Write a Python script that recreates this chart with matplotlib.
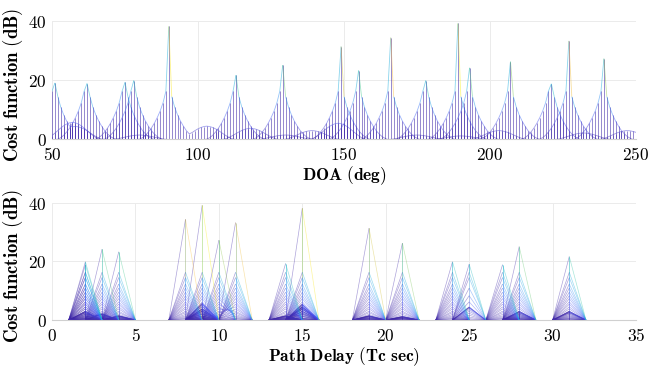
import numpy as np
import matplotlib
matplotlib.use('Agg')
import matplotlib.pyplot as plt
from matplotlib.collections import LineCollection
from matplotlib.colors import LinearSegmentedColormap, Normalize
from matplotlib.ticker import FuncFormatter

plt.rcParams['mathtext.fontset'] = 'cm'

# ---------------- data ----------------
doa_grid = np.arange(50, 251, 1)          # DOA grid (deg)
delay_grid = np.arange(0, 36, 1)          # path delay grid (Tc)

peak_doa   = [51, 62, 75, 78, 90, 113, 129, 149, 155, 166, 178, 189, 193, 207, 221, 227, 239]
peak_delay = [25, 27, 14, 2, 15, 31, 28, 19, 4, 8, 24, 9, 3, 21, 2, 11, 10]
peak_db    = [19.1, 18.9, 19.3, 19.9, 38.2, 21.7, 25.1, 31.4, 23.3, 34.4, 19.9, 39.2, 24.2, 26.3, 18.8, 33.3, 27.3]

# levels of the grid points beside each peak (dB), 1, 2, 3 ... deg away
side_left_db  = [16.3, 12.3, 9.5, 7.3, 5.4, 3.8, 2.5, 1.4, 0.6, 0.1]
side_right_db = [14.5, 10.9, 8.3, 6.2, 4.5, 3.0, 1.9, 1.0, 0.4, 0.0]

# low, broad bumps of the cost function
bump_doa   = [57, 58, 103, 118, 139, 148, 175, 203, 232, 247, 80, 130, 190]
bump_delay = [9, 25, 15, 9, 2, 15, 14, 28, 3, 31, 4, 19, 21]
bump_db    = [5.8, 4.4, 4.5, 3.8, 3.0, 5.5, 1.5, 3.0, 2.2, 3.0, 1.5, 1.5, 1.2]
bump_shape = [1.0, 0.97, 0.9, 0.8, 0.67, 0.52, 0.37, 0.23, 0.11, 0.03]

# ---------------- build the cost surface ----------------
nd, na = len(delay_grid), len(doa_grid)
Z = np.full((nd, na), np.nan)

def put(r, c, v):
    if 0 <= r < nd and 0 <= c < na:
        Z[r, c] = v if np.isnan(Z[r, c]) else max(Z[r, c], v)

for d in list(peak_delay) + list(bump_delay):
    r = int(np.searchsorted(delay_grid, d))
    for rr in (r - 1, r, r + 1):
        if 0 <= rr < nd:
            Z[rr] = np.where(np.isnan(Z[rr]), 0.0, Z[rr])

for a, d, h in zip(peak_doa, peak_delay, peak_db):
    r = int(np.searchsorted(delay_grid, d)); c = int(np.searchsorted(doa_grid, a))
    put(r, c, h)
    for k, v in enumerate(side_left_db, start=1):
        put(r, c - k, v)
    for k, v in enumerate(side_right_db, start=1):
        put(r, c + k, v)

for a, d, h in zip(bump_doa, bump_delay, bump_db):
    r = int(np.searchsorted(delay_grid, d)); c = int(np.searchsorted(doa_grid, a))
    for k, s in enumerate(bump_shape):
        put(r, c - k, h * s)
        put(r, c + k, h * s)

# ---------------- parula-like colormap ----------------
parula = LinearSegmentedColormap.from_list('parula', [
    (0.2422, 0.1504, 0.6603), (0.2810, 0.3228, 0.9579), (0.1786, 0.5289, 0.9682),
    (0.0689, 0.6948, 0.8394), (0.2161, 0.7843, 0.5923), (0.6720, 0.7793, 0.2227),
    (0.9906, 0.7406, 0.2394), (0.9763, 0.9831, 0.0538)])
norm = Normalize(0, 40)

def edge_segments(X, axis, mode):
    if axis == 0:
        x0, x1, z0, z1 = X[:-1], X[1:], Z[:-1], Z[1:]
    else:
        x0, x1, z0, z1 = X[:, :-1], X[:, 1:], Z[:, :-1], Z[:, 1:]
    m = np.isfinite(z0) & np.isfinite(z1)
    s = np.stack([np.stack([x0[m], z0[m]], -1), np.stack([x1[m], z1[m]], -1)], 1)
    v = z0[m] if mode == 'first' else np.minimum(z0[m], z1[m])
    o = np.argsort(v, kind='stable')
    return s[o], v[o]

def bold(v, pos):
    return r'$\mathbf{%d}$' % v

fig = plt.figure(figsize=(6.5, 3.67), dpi=100)
ax1 = fig.add_axes([0.080, 0.620, 0.8985, 0.3225])
ax2 = fig.add_axes([0.080, 0.128, 0.8985, 0.3190])

XA = np.broadcast_to(doa_grid[None, :], Z.shape).astype(float)
XD = np.broadcast_to(delay_grid[:, None], Z.shape).astype(float)

# top: side view along delay -> delay-direction edges appear vertical
s, v = edge_segments(XA, 0, 'min')
ax1.add_collection(LineCollection(s, colors=parula(norm(v)), linewidths=0.5, alpha=0.45))
s, v = edge_segments(XA, 1, 'first')
ax1.add_collection(LineCollection(s, colors=parula(norm(v)), linewidths=0.6, alpha=0.5))

# bottom: side view along DOA -> DOA-direction edges appear vertical
s, v = edge_segments(XD, 1, 'first')
ax2.add_collection(LineCollection(s, colors=parula(norm(v)), linewidths=0.5, alpha=0.42))
s, v = edge_segments(XD, 0, 'first')
ax2.add_collection(LineCollection(s, colors=parula(norm(v)), linewidths=0.5, alpha=0.42))

for ax, xlim, xticks, xlabel in (
        (ax1, (50, 250), [50, 100, 150, 200, 250], r'$\mathbf{DOA\ (deg)}$'),
        (ax2, (0, 35), [0, 5, 10, 15, 20, 25, 30, 35], r'$\mathbf{Path\ Delay\ (Tc\ sec)}$')):
    ax.set_xlim(*xlim); ax.set_ylim(0, 40)
    ax.set_xticks(xticks); ax.set_yticks([0, 20, 40])
    ax.xaxis.set_major_formatter(FuncFormatter(bold))
    ax.yaxis.set_major_formatter(FuncFormatter(bold))
    ax.tick_params(length=0, labelsize=12.5)
    ax.tick_params(axis='x', pad=5)
    ax.tick_params(axis='y', pad=4)
    ax.grid(True, color='#ebebeb', lw=0.7)
    ax.set_axisbelow(True)
    for sp in ('top', 'right', 'left'):
        ax.spines[sp].set_visible(False)
    ax.spines['bottom'].set_color('#d0d0d0')
    ax.set_xlabel(xlabel, fontsize=12.5, labelpad=0)
    ax.set_ylabel(r'$\mathbf{Cost\ function\ (dB)}$', fontsize=13.5)
    ax.yaxis.set_label_coords(-0.046, 0.46)

fig.savefig('out.png', dpi=100)
